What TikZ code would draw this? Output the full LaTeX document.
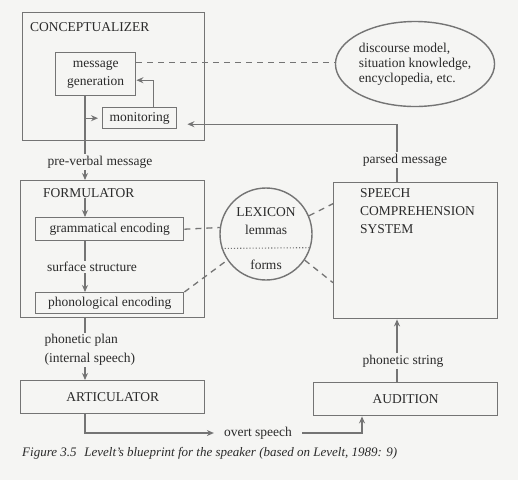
\documentclass[tikz,border=0pt]{standalone}
\usepackage{fontspec}
\setmainfont{Liberation Serif}
\usetikzlibrary{arrows.meta,calc,shapes.geometric}
\definecolor{bg}{HTML}{F5F5F3}
\definecolor{ln}{HTML}{747474}
\definecolor{tx}{HTML}{2A2A2A}
\begin{document}
\begin{tikzpicture}[x=1pt,y=-1pt,
  font=\fontsize{13.5}{18}\selectfont, text=tx,
  box/.style={draw=ln, line width=1.4pt, inner sep=0pt, anchor=north west},
  lbl/.style={fill=bg, inner sep=1.5pt, text=tx},
  arr/.style={-{Stealth[length=7pt,width=6pt]}, draw=ln, line width=1.1pt},
  dsh/.style={draw=ln, line width=1.3pt, dash pattern=on 6pt off 5pt},
  plain/.style={draw=ln, line width=1pt}]
\fill[bg] (0,0) rectangle (518,480);
\useasboundingbox (0,0) rectangle (518,480);
\coordinate (c1) at (85,0);
\coordinate (c2) at (397,0);
\coordinate (c3) at (362,0);
% boxes
\node[box, minimum width=182pt, minimum height=128pt] (conc) at (22,12) {};
\node[anchor=west, inner sep=0pt] (conct) at (30,27) {CONCEPTUALIZER};
\node[box, minimum width=80pt, minimum height=43pt, align=center] (msg) at (55,52) {message\\generation};
\node[box, minimum width=74pt, minimum height=21pt] (mon) at (102,107) {monitoring};
\node[draw=ln, line width=1.4pt, ellipse, minimum width=150pt, minimum height=85pt, inner sep=0pt, align=left, font=\fontsize{13.5}{15}\selectfont] (ell) at (415,64) {discourse model,\\situation knowledge,\\encyclopedia, etc.};
\node[box, minimum width=184pt, minimum height=137pt] (form) at (20,180) {};
\node[anchor=west, inner sep=0pt] (formt) at (43,193) {FORMULATOR};
\node[box, minimum width=148pt, minimum height=23pt] (gram) at (35,217) {grammatical encoding};
\node[box, minimum width=148pt, minimum height=21pt] (phon) at (35,292) {phonological encoding};
\node[draw=ln, line width=1.4pt, circle, minimum size=92pt, inner sep=0pt] (lex) at (266,234) {};
\node[inner sep=0pt] (lext) at (266,212) {LEXICON};
\node[inner sep=0pt] (lem) at (266,230) {lemmas};
\node[inner sep=0pt] (frm) at (266,265) {forms};
\node[box, minimum width=164pt, minimum height=136pt] (scs) at (333,182) {};
\node[anchor=north west, inner sep=0pt, align=left] (scst) at (360,188) {SPEECH\\COMPREHENSION\\SYSTEM};
\node[box, minimum width=184pt, minimum height=33pt] (art) at (20,380) {ARTICULATOR};
\node[box, minimum width=184pt, minimum height=33pt] (aud) at (313,382) {AUDITION};
% connectors
\draw[dsh] ([yshift=12pt]msg.east) -- ([yshift=12pt]msg.east -| ell.west);
\draw[arr] ([xshift=14pt]mon.north) |- ([yshift=-6pt]msg.east);
\draw[arr] (msg.south -| c1) -- (form.north -| c1);
\draw[arr] (mon.west -| c1) -- ([xshift=-4pt]mon.west);
\draw[arr] (scs.north -| c2) |- ([yshift=-6pt,xshift=10pt]mon.east);
\draw[arr] (formt.south -| c1) -- (gram.north -| c1);
\draw[arr] (gram.south -| c1) -- (phon.north -| c1);
\draw[arr] (form.south -| c1) -- (art.north -| c1);
\draw[arr] (aud.north -| c2) -- (scs.south -| c2);
\draw[dsh] (gram.east) -- (lex.172.5);
\draw[dsh] (phon.north east) -- (lex.214);
\draw[dsh] (lex.23) -- ([yshift=47pt]scs.west);
\draw[dsh] (lex.-34) -- ([yshift=-32pt]scs.west);
\draw[draw=ln, line width=1.1pt, dotted] (lex.-162.3) -- (lex.-17.7);
% labels on lines
\node[lbl] (pre) at (100,162) {pre-verbal message};
\node[lbl] (surf) at (92,267) {surface structure};
\node[lbl, anchor=west, align=left, font=\fontsize{13.5}{19}\selectfont] (plan) at (43,350) {phonetic plan\\(internal speech)};
\node[lbl] (pars) at (405,160) {parsed message};
\node[lbl] (pstr) at (403,361) {phonetic string};
\node[inner xsep=10pt, inner ysep=1pt] (os) at (258,433) {overt speech};
\draw[arr] (art.south -| c1) |- (os.west);
\draw[arr] (os.east) -| (aud.south -| c3);
% caption
\node[anchor=west, inner sep=0pt, font=\itshape\fontsize{13}{15}\selectfont] (cap) at (22,453) {Figure 3.5\hspace{0.6em}Levelt's blueprint for the speaker (based on Levelt, 1989: 9)};
\end{tikzpicture}
\end{document}
